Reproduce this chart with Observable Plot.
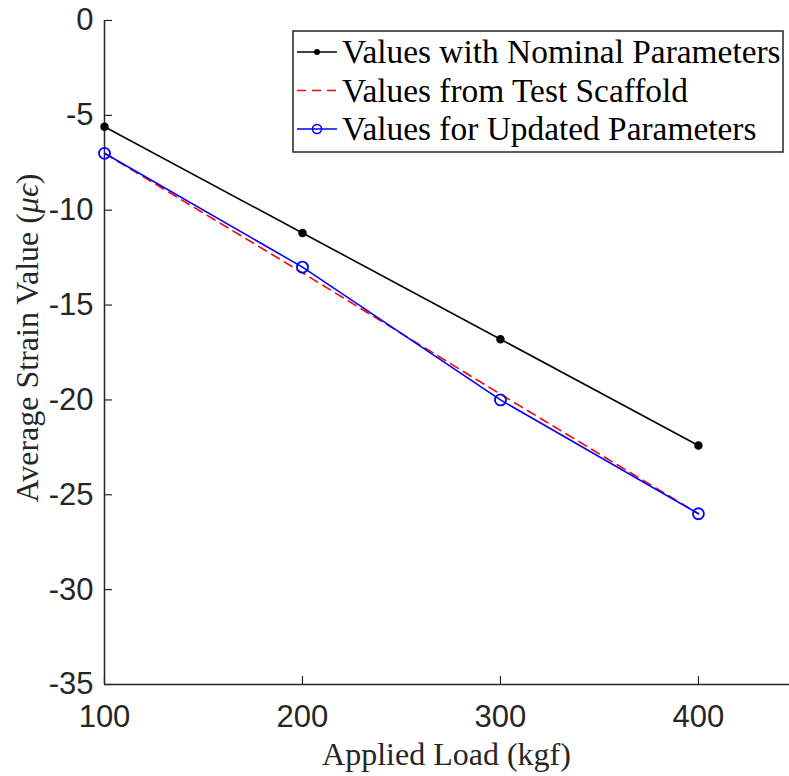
<!DOCTYPE html>
<html>
<head>
<meta charset="utf-8">
<script src="https://cdn.jsdelivr.net/npm/d3@7"></script>
<script src="https://cdn.jsdelivr.net/npm/@observablehq/plot@0.6"></script>
<style>
  html, body { margin: 0; padding: 0; background: #fff; }
  #chart { position: relative; width: 789px; height: 776px; }
</style>
</head>
<body>
<div id="chart"></div>
<script>
const loads = [100, 200, 300, 400];
const nominal = [-5.6, -11.2, -16.8, -22.4];
const scaffold = [-7, -13.3, -19.7, -26];
const updated = [-7, -13, -20, -26];
const xTicks = [100, 200, 300, 400];
const yTicks = [0, -5, -10, -15, -20, -25, -30, -35];
const seriesNames = ["Values with Nominal Parameters", "Values from Test Scaffold", "Values for Updated Parameters"];
const xLabel = "Applied Load (kgf)";
const yLabelMain = "Average Strain Value (";
const yLabelUnit = "\u03bc\u03f5";

const rows = (vals) => loads.map((x, i) => ({x, y: vals[i]}));
const dNom = rows(nominal), dSca = rows(scaffold), dUpd = rows(updated);

const W = 789, H = 776, mL = 104, mT = 20, mB = 92, mR = 0;
const axisColor = "#262626";

const plot = Plot.plot({
  width: W, height: H,
  marginLeft: mL, marginTop: mT, marginBottom: mB, marginRight: mR,
  x: {domain: [100, 446]},
  y: {domain: [-35, 0]},
  style: {background: "#fff", overflow: "visible"},
  marks: [
    Plot.axisX({ticks: xTicks, tickSize: 0, tickPadding: 20, fontSize: 31, fontFamily: "Liberation Sans", color: axisColor, label: null, tickFormat: d => String(d)}),
    Plot.axisY({ticks: yTicks, tickSize: 0, tickPadding: 11, fontSize: 31, fontFamily: "Liberation Sans", color: axisColor, label: null, tickFormat: d => String(d).replace("\u2212", "-")}),
    Plot.tickX(xTicks, {x: d => d, stroke: axisColor, strokeWidth: 1.2, insetTop: (H - mT - mB) - 8}),
    Plot.tickY(yTicks, {y: d => d, stroke: axisColor, strokeWidth: 1.2, insetRight: (W - mL - mR) - 8}),
    Plot.ruleX([100], {stroke: axisColor, strokeWidth: 1.5}),
    Plot.ruleY([-35], {stroke: axisColor, strokeWidth: 1.5}),
    Plot.line(dNom, {x: "x", y: "y", stroke: "#000", strokeWidth: 1.6}),
    Plot.dot(dNom, {x: "x", y: "y", r: 3.5, fill: "#000", stroke: "#000"}),
    Plot.line(dSca, {x: "x", y: "y", stroke: "#ff0000", strokeWidth: 1.6, strokeDasharray: "9,6"}),
    Plot.line(dUpd, {x: "x", y: "y", stroke: "#0000ff", strokeWidth: 1.6}),
    Plot.dot(dUpd, {x: "x", y: "y", r: 5.5, fill: "none", stroke: "#0000ff", strokeWidth: 1.8})
  ]
});

document.getElementById("chart").appendChild(plot);
const svg = d3.select(plot);

// X axis label
svg.append("text")
  .attr("x", (mL + W - mR) / 2).attr("y", 765)
  .attr("text-anchor", "middle")
  .attr("font-family", "Liberation Serif").attr("font-size", 32)
  .attr("fill", axisColor)
  .text(xLabel);

// Y axis label
const yl = svg.append("text")
  .attr("transform", `translate(38, 338) rotate(-90)`)
  .attr("text-anchor", "middle")
  .attr("font-family", "Liberation Serif").attr("font-size", 32)
  .attr("fill", axisColor);
yl.append("tspan").text(yLabelMain);
yl.append("tspan").attr("font-style", "italic").text(yLabelUnit);
yl.append("tspan").text(")");

// Legend
const lg = svg.append("g");
lg.append("rect").attr("x", 293).attr("y", 31).attr("width", 490).attr("height", 121)
  .attr("fill", "#fff").attr("stroke", axisColor).attr("stroke-width", 1.5);
const rowY = [52, 90.5, 129];
const styles = [
  {stroke: "#000", dash: null, marker: "dot"},
  {stroke: "#ff0000", dash: "9,6", marker: null},
  {stroke: "#0000ff", dash: null, marker: "circle"}
];
seriesNames.forEach((name, i) => {
  const y = rowY[i], s = styles[i];
  lg.append("line").attr("x1", 297).attr("x2", 337).attr("y1", y).attr("y2", y)
    .attr("stroke", s.stroke).attr("stroke-width", 1.6).attr("stroke-dasharray", s.dash);
  if (s.marker === "dot") lg.append("circle").attr("cx", 317).attr("cy", y).attr("r", 3).attr("fill", "#000");
  if (s.marker === "circle") lg.append("circle").attr("cx", 317).attr("cy", y).attr("r", 4.5).attr("fill", "none").attr("stroke", "#0000ff").attr("stroke-width", 1.6);
  lg.append("text").attr("x", 342).attr("y", y + 11)
    .attr("text-anchor", "start")
    .attr("font-family", "Liberation Serif").attr("font-size", 33.4).attr("fill", "#000")
    .text(name);
});
</script>
</body>
</html>
